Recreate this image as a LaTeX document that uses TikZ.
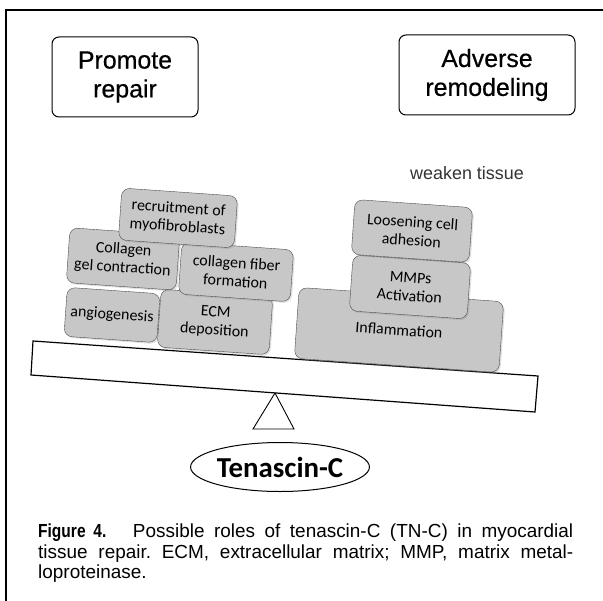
\documentclass[tikz,border=0pt]{standalone}
\usepackage{fontspec}
\setmainfont{Liberation Sans}
\newfontfamily\calfont{Carlito}
\newfontfamily\headfont[FakeBold=0.5]{Liberation Sans}
\newfontfamily\figfont[FakeStretch=0.82]{Liberation Sans}
\usetikzlibrary{shapes, shadows, positioning}

\begin{document}
\begin{tikzpicture}[x=1bp,y=-1bp,
 head node/.style={draw,rounded corners=7bp,line width=1bp,align=center,
   font=\headfont\fontsize{25}{29}\selectfont,minimum width=146bp,minimum height=80bp},
 stack node/.style={draw=black!70,fill=black!22,rounded corners=8bp,align=center,
   rotate=-4,inner sep=1bp,font=\calfont\fontsize{16}{18.5}\selectfont,
   drop shadow={opacity=0.25,shadow xshift=1.5bp,shadow yshift=-1.5bp}}]

  \useasboundingbox (0,0) rectangle (603,601);

  % frame
  \draw[line width=1.4bp] (603,10) -- (6,10) -- (6,601);

  \node[head node] (repair) at (125,77) {Promote\\repair};
  \node[head node,minimum width=176bp] (remodel) at (487,75) {Adverse\\remodeling};
  \node[font=\fontsize{18}{20}\selectfont,text=black!80,anchor=base west,inner sep=0pt] (weaken) at (410,180) {weaken tissue};

  % the see-saw
  \draw[line width=1.2bp] (33,341) -- (538,376) -- (535,412) -- (31,375) -- cycle;
  \draw[line width=0.9bp] (275,393) -- (253,429) -- (294,429) -- cycle;
  \node[draw,ellipse,line width=1bp,minimum width=154bp,minimum height=49bp,inner sep=0pt,
    font=\calfont\bfseries\fontsize{29}{30}\selectfont] (tnc) at (280,467) {Tenascin-C};

  % stacked roles
  \foreach \n/\x/\y/\w/\h/\t in {inflam/399/330/205/71/{Inflammation},
      mmps/410/287/118/56/{MMPs\\Activation}, loosen/412/231/118/55/{Loosening cell\\adhesion},
      angio/112/315/93/49/{angiogenesis}, ecm/215/322/112/58/{ECM\\deposition},
      gel/123/259/110/55/{Collagen\\gel contraction}, fiber/236/272/112/52/{collagen fiber\\formation},
      recruit/178/218/116/52/{recruitment of\\myofibroblasts}} {
   \node[stack node,minimum width=\w bp,minimum height=\h bp] (\n) at (\x,\y) {\t};}

  \node[anchor=north west,inner sep=0pt,text width=535bp,align=justify,
    font=\fontsize{19}{20.5}\selectfont] (caption) at (38,524)
    {\frenchspacing{\figfont\bfseries Figure 4.}\hspace{0.9em} Possible roles of tenascin-C (TN-C) in myocardial\linebreak
     tissue repair. ECM, extracellular matrix; MMP, matrix metal-\linebreak loproteinase.};

\end{tikzpicture}
\end{document}
